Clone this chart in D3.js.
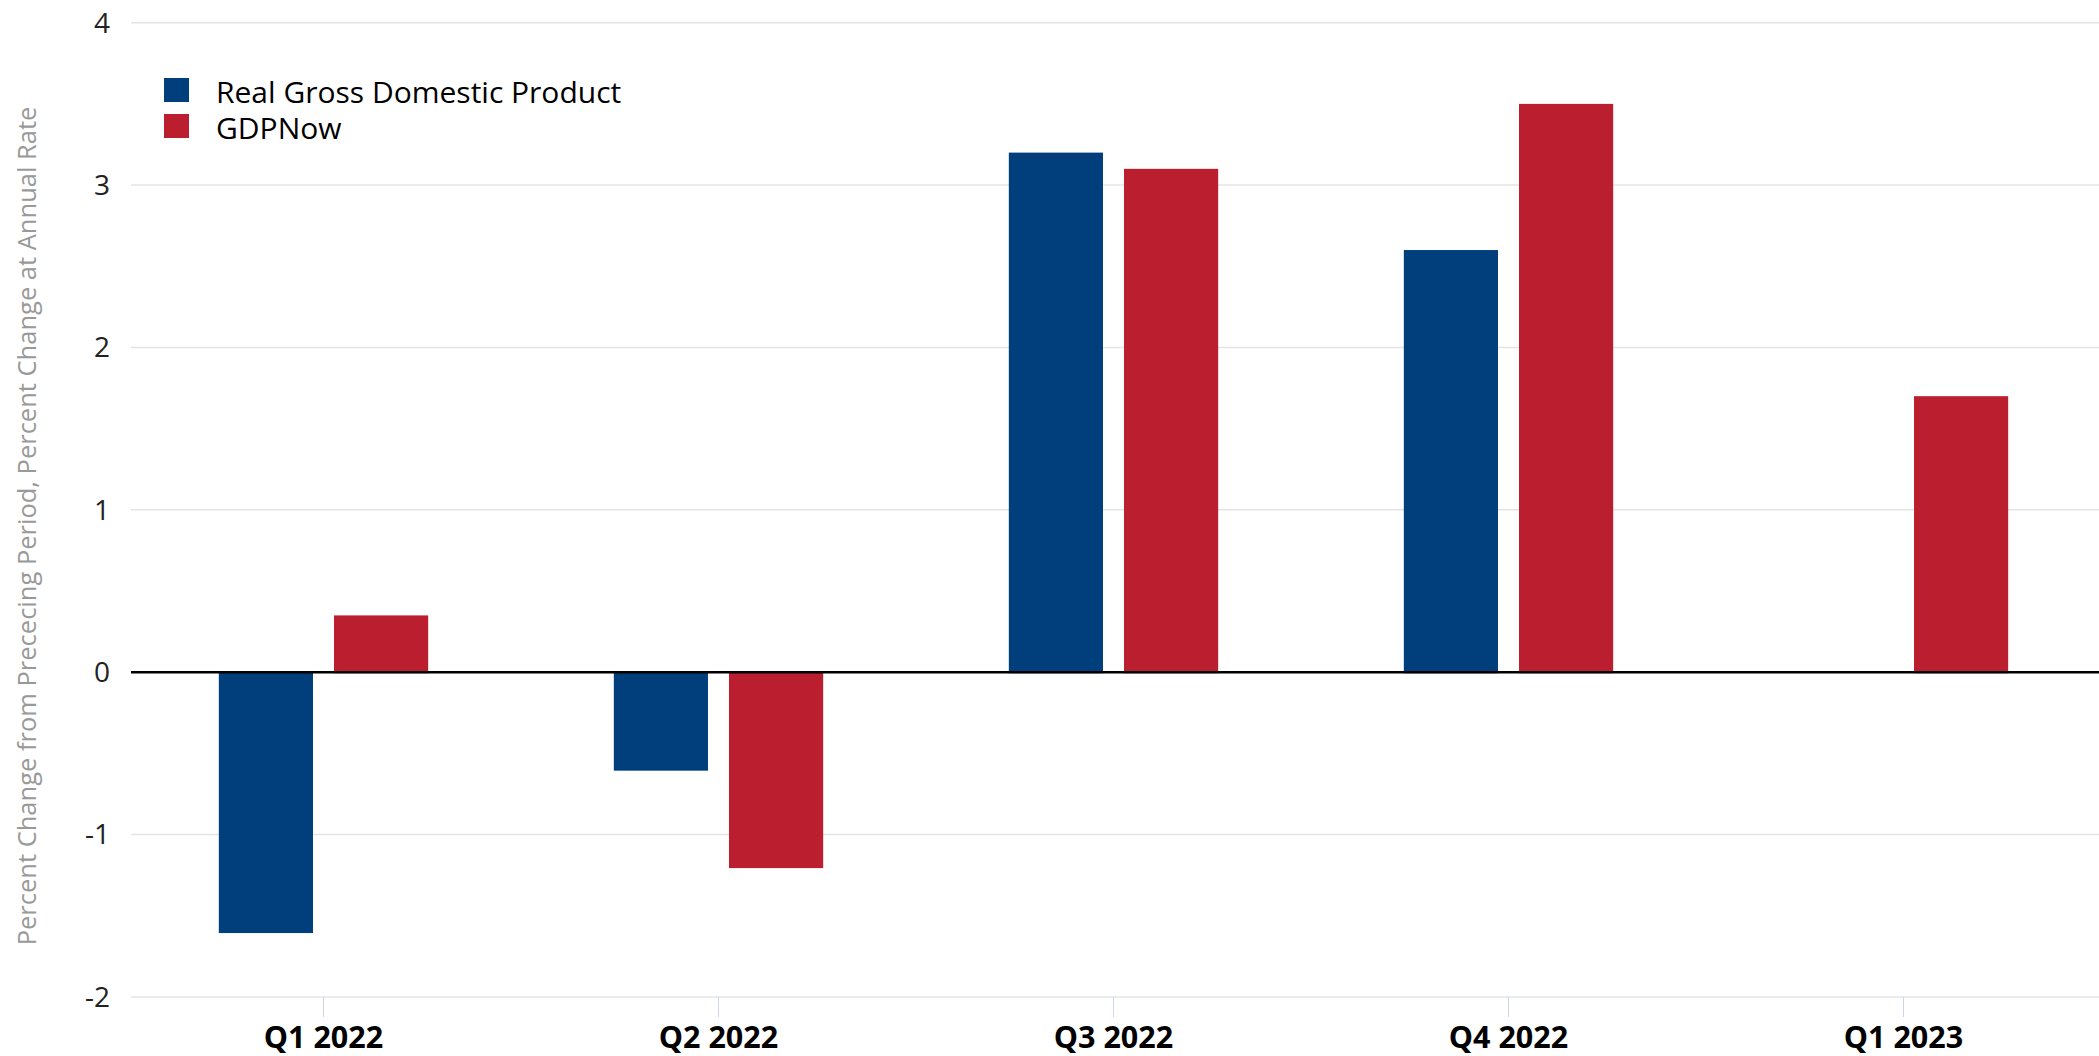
<!DOCTYPE html>
<html>
<head>
<meta charset="utf-8">
<script src="https://cdn.jsdelivr.net/npm/d3@7"></script>
<style>
  body { margin: 0; background: #fff; }
  svg { display: block; font-family: "Open Sans", sans-serif; }
</style>
</head>
<body>
<svg id="vis-svg"></svg>
<script>
// chart data
const quarters = ["Q1 2022", "Q2 2022", "Q3 2022", "Q4 2022", "Q1 2023"];
const seriesNames = ["Real Gross Domestic Product", "GDPNow"];
const gdpValues = [-1.6, -0.6, 3.2, 2.6, null];
const nowValues = [0.35, -1.2, 3.1, 3.5, 1.7];
const yTicks = [-2, -1, 0, 1, 2, 3, 4];
const yTitle = "Percent Change from Prececing Period, Percent Change at Annual Rate";

const colors = ["#003f7b", "#bb1e2f"];

const width = 2099, height = 1056;
const plotLeft = 131, plotRight = 2099;

const svg = d3.select("#vis-svg")
    .attr("width", width)
    .attr("height", height);

// scales
const x0 = d3.scaleBand().domain(quarters).range([126, 2101]).paddingInner(0.47).paddingOuter(0.235);
const x1 = d3.scaleBand().domain(seriesNames).range([0, x0.bandwidth()]).paddingInner(0.1826);
const y = d3.scaleLinear().domain([-2, 4]).range([997, 22.7]);

// grid lines
svg.append("g")
    .selectAll("line")
    .data(yTicks)
  .enter().append("line")
    .attr("x1", plotLeft)
    .attr("x2", plotRight)
    .attr("y1", d => y(d))
    .attr("y2", d => y(d))
    .attr("stroke", "#e4e4e4")
    .attr("stroke-width", 1.5);

// y axis labels
svg.append("g")
    .selectAll("text")
    .data(yTicks)
  .enter().append("text")
    .attr("x", 110)
    .attr("y", d => y(d))
    .attr("dy", "0.35em")
    .attr("text-anchor", "end")
    .style("font-size", "28px")
    .attr("fill", "#222")
    .text(d => d);

// y axis title
svg.append("text")
    .attr("transform", "translate(27," + 526 + ") rotate(-90)")
    .attr("dy", "0.35em")
    .attr("text-anchor", "middle")
    .style("font-size", "25.5px")
    .attr("fill", "#999")
    .text(yTitle);

// x ticks + labels
const xAxis = svg.append("g");
xAxis.selectAll("line")
    .data(quarters)
  .enter().append("line")
    .attr("x1", d => x0(d) + x0.bandwidth() / 2)
    .attr("x2", d => x0(d) + x0.bandwidth() / 2)
    .attr("y1", y(-2))
    .attr("y2", y(-2) + 20)
    .attr("stroke", "#ccd6eb")
    .attr("stroke-width", 1);

xAxis.selectAll("text")
    .data(quarters)
  .enter().append("text")
    .attr("x", d => x0(d) + x0.bandwidth() / 2)
    .attr("y", 1048)
    .attr("text-anchor", "middle")
    .style("font-size", "30.5px")
    .style("font-weight", "bold")
    .attr("fill", "#000")
    .text(d => d);

// bars
const rows = quarters.map((q, i) => ({q: q, vals: [gdpValues[i], nowValues[i]]}));

svg.append("g")
    .selectAll("g")
    .data(rows)
  .enter().append("g")
    .attr("transform", d => "translate(" + x0(d.q) + ",0)")
    .selectAll("rect")
    .data(d => d.vals.map((v, k) => ({name: seriesNames[k], v: v, k: k})).filter(d => d.v !== null))
  .enter().append("rect")
    .attr("x", d => x1(d.name))
    .attr("width", x1.bandwidth())
    .attr("y", d => y(Math.max(0, d.v)))
    .attr("height", d => Math.abs(y(d.v) - y(0)) + 1)
    .attr("fill", d => colors[d.k]);

// zero line
svg.append("line")
    .attr("x1", plotLeft)
    .attr("x2", plotRight)
    .attr("y1", y(0))
    .attr("y2", y(0))
    .attr("stroke", "#000")
    .attr("stroke-width", 2.5);

// legend
const legend = svg.append("g");
seriesNames.forEach((name, i) => {
    legend.append("rect")
        .attr("x", 164)
        .attr("y", 78 + i * 36)
        .attr("width", 25)
        .attr("height", 24)
        .attr("fill", colors[i]);
    legend.append("text")
        .attr("x", 216)
        .attr("y", 103 + i * 36)
        .style("font-size", "30px")
        .attr("fill", "#000")
        .text(name);
});
</script>
</body>
</html>
